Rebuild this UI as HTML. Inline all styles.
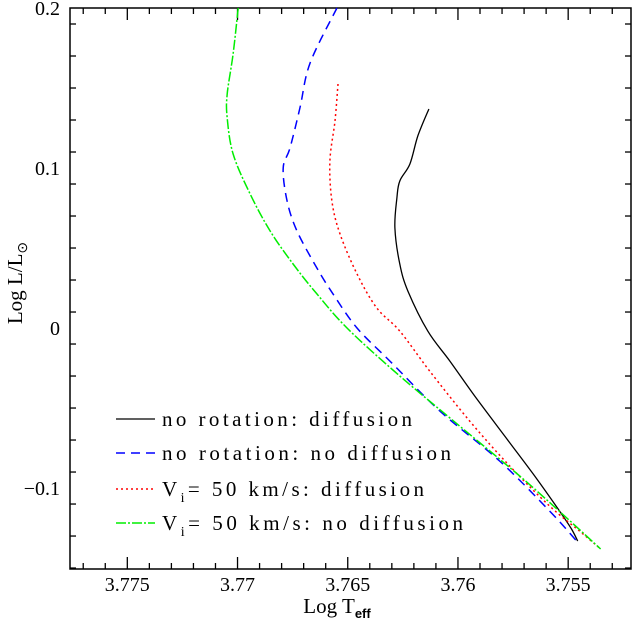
<!DOCTYPE html>
<html><head><meta charset="utf-8"><style>
html,body{margin:0;padding:0;background:#fff;}
svg{display:block;font-family:"Liberation Serif",serif;}
</style></head><body>
<svg id="chart" width="633" height="629" viewBox="0 0 633 629" xmlns="http://www.w3.org/2000/svg">
<rect x="70" y="8" width="561" height="561" fill="none" stroke="#000" stroke-width="1.5"/>
<g id="ticks"></g>
<g id="series"></g>
<text x="337" y="613" font-size="21" text-anchor="middle">Log  T<tspan font-size="13" dy="5" font-weight="bold" font-family="Liberation Sans, sans-serif">eff</tspan></text>
<text transform="translate(22,283) rotate(-90)" font-size="21" text-anchor="middle">Log  L/L<tspan font-size="14" dy="5">⊙</tspan></text>
<g id="legend"></g>
</svg>
<script>
const xTicks=[3.775,3.77,3.765,3.76,3.755];
const xTickLabels=["3.775","3.77","3.765","3.76","3.755"];
const yTicks=[0.2,0.1,0,-0.1];
const yTickLabels=["0.2","0.1","0","\u22120.1"];
const seriesNames=["no rotation: diffusion","no rotation: no diffusion","V= 50 km/s: diffusion","V= 50 km/s: no diffusion"];
const blackT=[3.76132,3.76182,3.76218,3.76264,3.76277,3.76286,3.76264,3.76227,3.76137,3.76037,3.75924,3.75788,3.75652,3.75539,3.75485,3.75457];
const blackL=[0.1369,0.12,0.1025,0.0919,0.0813,0.0625,0.04,0.0231,-0.0019,-0.0206,-0.0425,-0.0675,-0.0925,-0.1144,-0.1256,-0.1331];
const blueT=[3.76549,3.76671,3.76717,3.76762,3.76793,3.76775,3.76730,3.76640,3.76567,3.76458,3.76309,3.76082,3.75811,3.75584,3.75462];
const blueL=[0.2,0.1656,0.1375,0.1125,0.1,0.0794,0.0606,0.0375,0.0213,0,-0.0206,-0.0519,-0.0831,-0.1144,-0.1331];
const redT=[3.76544,3.76558,3.76581,3.76572,3.76535,3.76458,3.76368,3.76264,3.76128,3.75947,3.75765,3.75584,3.75448,3.75358];
const redL=[0.1525,0.1294,0.1044,0.0794,0.0588,0.0338,0.0125,-0.0019,-0.0269,-0.0581,-0.0863,-0.1113,-0.1269,-0.1375];
const greenT=[3.76997,3.77020,3.77047,3.77047,3.77020,3.76943,3.76852,3.76748,3.76640,3.76499,3.76264,3.75992,3.75720,3.75516,3.75353];
const greenL=[0.2,0.1713,0.1463,0.1313,0.1088,0.0838,0.0606,0.04,0.0213,-0.0006,-0.03,-0.0613,-0.0925,-0.1175,-0.1381];

const NS="http://www.w3.org/2000/svg";
const X0=70,X1=631,Y0=8,Y1=569;
const xMin=3.7776,xMax=3.75215,yMin=-0.1506,yMax=0.2;
function sx(t){return X0+(t-xMin)/(xMax-xMin)*(X1-X0);}
function sy(l){return Y1-(l-yMin)/(yMax-yMin)*(Y1-Y0);}
function mk(tag,attrs,parent){const e=document.createElementNS(NS,tag);for(const k in attrs)e.setAttribute(k,attrs[k]);parent.appendChild(e);return e;}
function smooth(P){
  let d='M'+P[0][0].toFixed(1)+','+P[0][1].toFixed(1);
  for(let i=0;i<P.length-1;i++){
    const p0=P[Math.max(0,i-1)],p1=P[i],p2=P[i+1],p3=P[Math.min(P.length-1,i+2)];
    const c1=[p1[0]+(p2[0]-p0[0])/6,p1[1]+(p2[1]-p0[1])/6];
    const c2=[p2[0]-(p3[0]-p1[0])/6,p2[1]-(p3[1]-p1[1])/6];
    d+=' C'+c1[0].toFixed(1)+','+c1[1].toFixed(1)+' '+c2[0].toFixed(1)+','+c2[1].toFixed(1)+' '+p2[0].toFixed(1)+','+p2[1].toFixed(1);
  }
  return d;
}
const tg=document.getElementById('ticks');
for(let i=3752;i<=3777;i++){
  const t=i/1000;const x=sx(t);if(x<X0||x>X1)continue;
  const major=(i%5===0);const len=major?12:6;
  const a=mk('line',{x1:x,x2:x,y1:Y1,y2:Y1-len,stroke:'#000','stroke-width':1.3},tg);
  
  
  const b=mk('line',{x1:x,x2:x,y1:Y0,y2:Y0+len,stroke:'#000','stroke-width':1.3},tg);
  
  
}
xTicks.forEach((t,i)=>{
  const e=mk('text',{x:sx(t),y:591,'font-size':20,'text-anchor':'middle'},tg);
  e.textContent=xTickLabels[i];
  
  
});
for(let i=-15;i<=20;i+=2){
  const l=i/100;const y=sy(l);if(y<Y0-0.5||y>Y1)continue;
  const major=(i%10===0);const len=major?12:6;
  const a=mk('line',{x1:X0,x2:X0+len,y1:y,y2:y,stroke:'#000','stroke-width':1.3},tg);
  
  
  const b=mk('line',{x1:X1,x2:X1-len,y1:y,y2:y,stroke:'#000','stroke-width':1.3},tg);
  
  
}
yTicks.forEach((l,i)=>{
  const e=mk('text',{x:60,y:sy(l)+7,'font-size':20,'text-anchor':'end'},tg);
  e.textContent=yTickLabels[i];
  
  
});
const styles=[
  {c:'#000',d:'',w:1.3,n:'no-rotation-diffusion-line'},
  {c:'#0000ff',d:'9 6',w:1.5,n:'no-rotation-no-diffusion-line'},
  {c:'#ff0000',d:'2 3',w:1.5,n:'rotation-diffusion-line'},
  {c:'#00ee00',d:'10 2 2 2',w:1.5,n:'rotation-no-diffusion-line'}];
const data=[[blackT,blackL],[blueT,blueL],[redT,redL],[greenT,greenL]];
const sg=document.getElementById('series');
data.forEach((s,k)=>{
  const P=s[0].map((t,i)=>[sx(t),sy(s[1][i])]);
  const p=mk('path',{d:smooth(P),fill:'none',stroke:styles[k].c,'stroke-width':styles[k].w,'stroke-dasharray':styles[k].d,'stroke-linejoin':'round'},sg);
  
  
});
const lg=document.getElementById('legend');
const rowY=[419,453,489,523];
const widths=[250,289,262,301];
seriesNames.forEach((nm,k)=>{
  const g=mk('g',{},lg);
  
  
  const y=rowY[k];
  mk('line',{x1:116,x2:155,y1:y,y2:y,stroke:styles[k].c,'stroke-width':styles[k].w,'stroke-dasharray':styles[k].d},g);
  const t=mk('text',{x:162,y:y+7,'font-size':21,textLength:widths[k],lengthAdjust:'spacing'},g);
  if(k>=2){
    t.innerHTML='V<tspan font-size="14" dy="6">i</tspan><tspan dy="-6">= 50 km/s: '+(k===2?'diffusion':'no diffusion')+'</tspan>';
  } else t.textContent=nm;
});
</script>
</body></html>
